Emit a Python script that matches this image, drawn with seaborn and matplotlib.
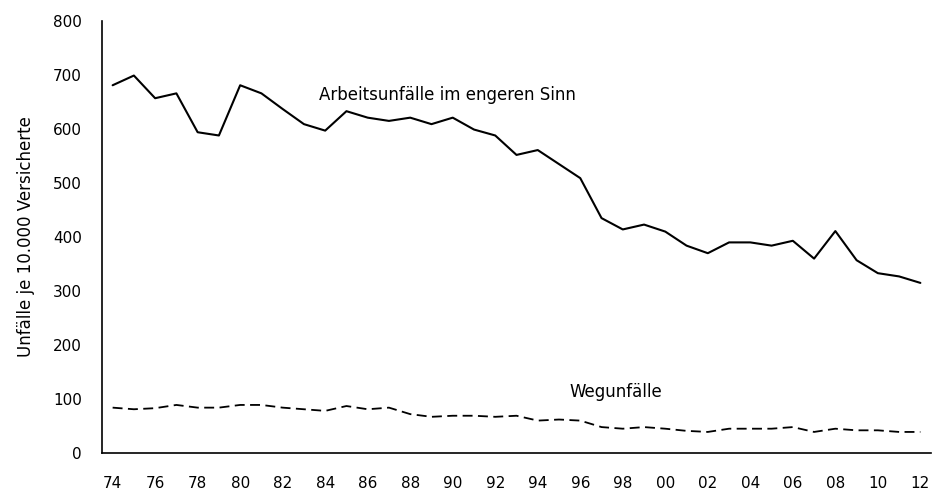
import matplotlib
matplotlib.use("Agg")
import matplotlib.pyplot as plt
import seaborn as sns
import pandas as pd
import numpy as np

years = ["74","75","76","77","78","79","80","81","82","83","84","85","86","87","88","89","90","91","92","93",
         "94","95","96","97","98","99","00","01","02","03","04","05","06","07","08","09","10","11","12"]
arbeitsunfaelle = [681,699,657,666,594,588,681,666,637,609,597,633,621,615,621,609,621,599,588,552,
                   561,535,509,435,414,423,410,384,370,390,390,384,393,360,411,357,333,327,315]
wegunfaelle = [84,81,83,89,84,84,89,89,84,81,78,87,81,84,72,67,69,69,67,69,
               60,62,60,48,45,48,45,41,39,45,45,45,48,39,45,42,42,39,39]
ytick_values = [0,100,200,300,400,500,600,700,800]

sns.set_style("white")
plt.rcParams['font.family'] = ['DejaVu Sans']
plt.rcParams['text.color'] = 'black'
plt.rcParams['axes.labelcolor'] = 'black'

fig = plt.figure(figsize=(9.34, 4.92), dpi=100)
ax = fig.add_axes([102/934, 39/492, 829/934, 432/492])

pos = np.arange(len(years))
df = pd.DataFrame({"pos": pos, "arbeit": arbeitsunfaelle, "weg": wegunfaelle})

sns.lineplot(data=df, x="pos", y="arbeit", ax=ax, color="black", linewidth=1.5)
sns.lineplot(data=df, x="pos", y="weg", ax=ax, color="black", linewidth=1.3,
             linestyle=(0, (5.5, 3)))

ax.set_xlim(-0.5, len(years) - 0.5)
ax.set_ylim(0, 800)

ax.set_yticks(ytick_values)
ax.set_yticklabels([str(v) for v in ytick_values])
ax.tick_params(axis="y", direction="out", length=5, width=1, pad=9.5, labelsize=11, colors="black")

ax.set_xticks(pos[::2])
ax.set_xticklabels(years[::2])
ax.set_xticks(np.arange(-0.5, len(years)), minor=True)
ax.tick_params(axis="x", which="major", length=0, pad=16.5, labelsize=11, colors="black")
ax.tick_params(axis="x", which="minor", direction="out", length=5, width=1, color="black")

for s in ["top", "right"]:
    ax.spines[s].set_visible(False)
for s in ["left", "bottom"]:
    ax.spines[s].set_color("black")
    ax.spines[s].set_linewidth(1.2)

ax.set_xlabel("")
ax.set_ylabel("Unfälle je 10.000 Versicherte", fontsize=12, labelpad=13, color="black")

ax.text(9.7, 663, "Arbeitsunfälle im engeren Sinn", fontsize=12, va="center", ha="left", color="black")
ax.text(21.5, 113, "Wegunfälle", fontsize=12, va="center", ha="left", color="black")

fig.savefig("out.png", dpi=100)
